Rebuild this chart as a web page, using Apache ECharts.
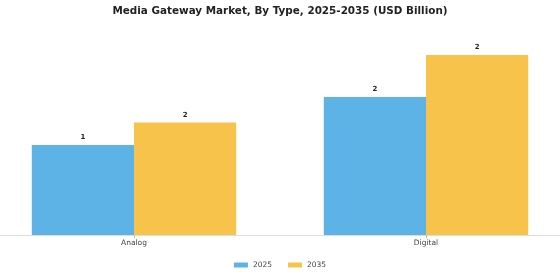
<!DOCTYPE html>
<html><head><meta charset="utf-8">
<script src="https://cdn.jsdelivr.net/npm/echarts@6/dist/echarts.min.js"></script>
<style>html,body{margin:0;padding:0;background:#fff;overflow:hidden;width:560px;height:280px}#c{width:584px;height:280px;margin-left:-12px}</style>
</head><body><div id="c"></div>
<script>
const categories = ['Analog', 'Digital'];
const seriesNames = ['2025', '2035'];
const values2025 = [1.2, 1.84];
const values2035 = [1.5, 2.4];

const chart = echarts.init(document.getElementById('c'), null, {renderer: 'canvas'});
const font = 'DejaVu Sans';
const colors = ['#5DB3E6', '#F8C34A'];
function mk(name, data, color) {
  return {
    name: name, type: 'bar', data: data, barGap: '0%', barCategoryGap: '30%',
    itemStyle: {color: color},
    label: {show: true, position: 'top', distance: 4, fontFamily: font, fontSize: 7, fontWeight: 'bold', color: '#222',
      formatter: p => String(Math.round(p.value))}
  };
}
chart.setOption({
  animation: false,
  title: {text: 'Media Gateway Market, By Type, 2025-2035 (USD Billion)', left: 'center', top: 1,
    textStyle: {fontFamily: font, fontSize: 10.4, fontWeight: 'bold', color: '#222'}},
  legend: {data: seriesNames, bottom: 6, left: 'center', itemWidth: 14, itemHeight: 5, itemGap: 16, icon: 'rect',
    textStyle: {fontFamily: font, fontSize: 7.5, color: '#444'}},
  grid: {left: 0, right: 0, top: 10, bottom: 45, containLabel: false},
  xAxis: {type: 'category', data: categories,
    axisLine: {lineStyle: {color: '#ddd'}},
    axisTick: {show: true, alignWithLabel: true, length: 3, lineStyle: {color: '#bbb'}},
    axisLabel: {fontFamily: font, fontSize: 7.5, color: '#444', margin: 4}},
  yAxis: {type: 'value', min: 0, max: 3, show: false, splitLine: {show: false}},
  series: [mk(seriesNames[0], values2025, colors[0]), mk(seriesNames[1], values2035, colors[1])]
});
</script></body></html>
